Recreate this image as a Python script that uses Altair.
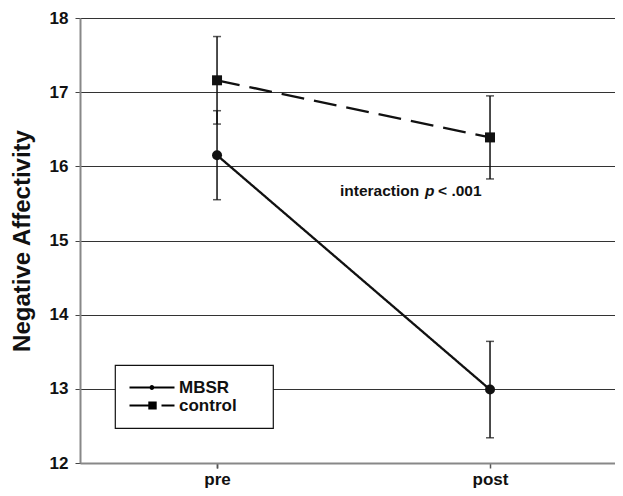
import altair as alt
import pandas as pd

groups = ["MBSR", "MBSR", "control", "control"]
times = ["pre", "post", "pre", "post"]
means = [16.15, 12.99, 17.16, 16.39]
lows = [15.55, 12.34, 16.57, 15.83]
highs = [16.75, 13.64, 17.75, 16.95]

time_order = ["pre", "post"]
group_order = ["MBSR", "control"]
y_ticks = [12, 13, 14, 15, 16, 17, 18]

df = pd.DataFrame({"group": groups, "time": times, "mean": means, "lo": lows, "hi": highs})

FONT = "Liberation Sans"

x_scale = alt.Scale(type="point", domain=time_order, padding=0.4799, align=0.523)
x_axis = alt.Axis(title=None, labelAngle=0, tickBand="extent", tickSize=5,
                  labelFontSize=17, labelFontWeight="bold", labelFont=FONT,
                  labelPadding=3, domainColor="#888", domainWidth=2,
                  tickColor="#555", tickWidth=1.5, labelColor="#111")
x_enc = alt.X("time:N", sort=time_order, scale=x_scale, axis=x_axis)
y_scale = alt.Scale(domain=[12, 18], nice=False, zero=False)
y_axis = alt.Axis(title="Negative Affectivity", values=y_ticks, format="d",
                  titleFontSize=24, titleFontWeight="bold", titleFont=FONT, titleColor="#111",
                  titlePadding=15, labelFontSize=17, labelFontWeight="bold", labelFont=FONT,
                  labelColor="#111", labelPadding=7, tickSize=5, tickColor="#444",
                  domainColor="#888", domainWidth=2, grid=True, gridColor="#333", gridWidth=1)

base = alt.Chart(df)

err = base.mark_rule(color="#111", strokeWidth=1.5).encode(
    x=x_enc, y=alt.Y("lo:Q", scale=y_scale, axis=y_axis), y2="hi:Q")
cap_lo = base.mark_tick(color="#111", size=8, thickness=1.5).encode(x=x_enc, y=alt.Y("lo:Q", scale=y_scale))
cap_hi = base.mark_tick(color="#111", size=8, thickness=1.5).encode(x=x_enc, y=alt.Y("hi:Q", scale=y_scale))

line = base.mark_line(color="#111", strokeWidth=2.3).encode(
    x=x_enc, y=alt.Y("mean:Q", scale=y_scale),
    strokeDash=alt.StrokeDash("group:N", scale=alt.Scale(domain=group_order, range=[[1, 0], [23, 10]]), legend=None),
)

pts = base.mark_point(filled=True, color="#111", opacity=1, size=100).encode(
    x=x_enc, y=alt.Y("mean:Q", scale=y_scale),
    shape=alt.Shape("group:N", scale=alt.Scale(domain=group_order, range=["circle", "square"]), legend=None),
)

# legend glyphs: unit = 8 px (symbolSize 256), drawn from x=-1 to x=4.625
mbsr_path = ("M-1,-0.125H4.625V0.125H-1Z "
             "M2.1,0A0.3,0.3 0 1,1 1.5,0A0.3,0.3 0 1,1 2.1,0Z")
control_path = ("M-1,-0.125H1.4V0.125H-1Z "
                "M1.35,-0.5H2.4V0.5H1.35Z "
                "M3.0,-0.125H4.625V0.125H3.0Z")

legend_layer = base.mark_point(filled=True, color="black", opacity=1, size=256).encode(
    x=x_enc, y=alt.Y("mean:Q", scale=y_scale),
    shape=alt.Shape("group:N",
                    scale=alt.Scale(domain=group_order, range=[mbsr_path, control_path]),
                    legend=alt.Legend(title="xxx", titleOrient="right", titleOpacity=0,
                                      titleFontSize=13, titlePadding=0,
                                      orient="none", legendX=35, legendY=347,
                                      fillColor="white", strokeColor="#111", padding=14,
                                      labelFontSize=17, labelFontWeight="bold", labelFont=FONT,
                                      labelColor="#111", symbolSize=256, symbolFillColor="black",
                                      symbolStrokeWidth=0, labelOffset=33, rowPadding=0)),
).transform_filter("false")

ann_y = 15.6
ann_size = 15.5
t1 = alt.Chart().mark_text(text="interaction", align="left", baseline="alphabetic", fontSize=ann_size,
                           fontWeight="bold", font=FONT, color="#111", dx=-150).encode(
    x=alt.datum("post"), y=alt.datum(ann_y))
t2 = alt.Chart().mark_text(text="p", align="left", baseline="alphabetic", fontSize=ann_size,
                           fontWeight="bold", fontStyle="italic", font=FONT, color="#111", dx=-65).encode(
    x=alt.datum("post"), y=alt.datum(ann_y))
t3 = alt.Chart().mark_text(text="< .001", align="left", baseline="alphabetic", fontSize=ann_size,
                           fontWeight="bold", font=FONT, color="#111", dx=-52).encode(
    x=alt.datum("post"), y=alt.datum(ann_y))

chart = alt.layer(err, cap_lo, cap_hi, line, pts, legend_layer, t1, t2, t3).resolve_scale(
    shape="independent"
).properties(
    width=535, height=445,
    autosize=alt.AutoSizeParams(type="none"),
    padding={"left": 72, "top": 10, "right": 0, "bottom": 25},
).configure_view(stroke=None).configure_legend(strokeWidth=1.2)

chart.save("out.html", embed_options={"renderer": "svg", "actions": False})
